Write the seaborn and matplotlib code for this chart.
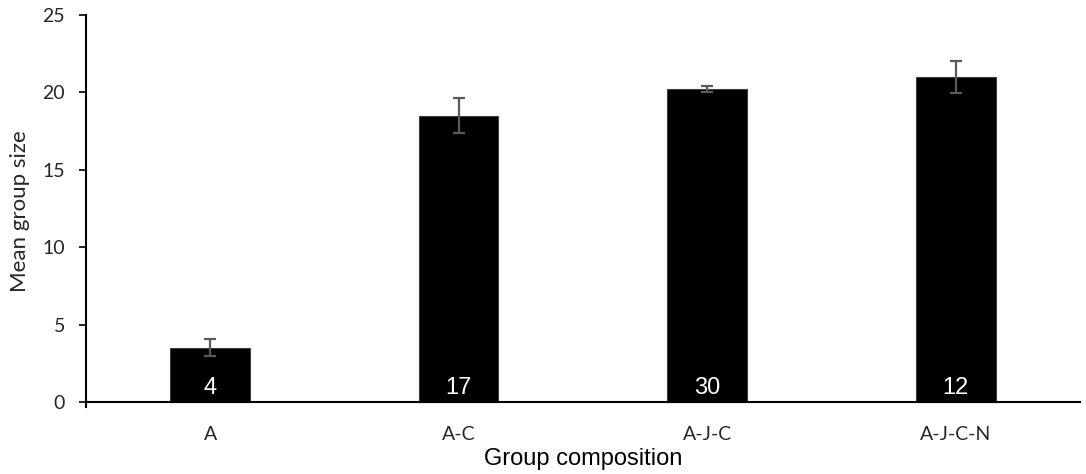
import matplotlib
matplotlib.use("Agg")
import matplotlib.pyplot as plt
import seaborn as sns
import pandas as pd

# Mean group size by composition, with standard errors and sample sizes
groups = ["A", "A-C", "A-J-C", "A-J-C-N"]
mean_size = [3.5, 18.5, 20.2, 21.0]
std_err = [0.55, 1.15, 0.2, 1.05]
n_groups = [4, 17, 30, 12]

df = pd.DataFrame({"group": groups, "mean": mean_size})

sns.set_theme(style="white")
plt.rcParams["font.family"] = ["Lato", "DejaVu Sans"]

fig = plt.figure(figsize=(10.86, 4.74), dpi=100)
ax = fig.add_axes([0.079, 0.142, 0.9155, 0.8265])

sns.barplot(data=df, x="group", y="mean", color="black", width=0.32,
            saturation=1, errorbar=None, ax=ax, edgecolor="#404040",
            linewidth=0.8)

ax.errorbar(range(len(groups)), mean_size, yerr=std_err, fmt="none",
            ecolor="#5a5a5a", elinewidth=1.6, capsize=4, capthick=1.6,
            zorder=5)

# sample size written inside each bar
for i, n in enumerate(n_groups):
    ax.text(i, 0.5, str(n), color="white", ha="center", va="baseline",
            fontsize=17, family="Liberation Sans", zorder=6)

ax.set_xlim(-0.5, len(groups) - 0.5)
ax.set_ylim(-0.3, 25)
ax.set_yticks([0, 5, 10, 15, 20, 25])

for side in ("top", "right"):
    ax.spines[side].set_visible(False)
ax.spines["bottom"].set_position(("data", 0))
ax.spines["left"].set_bounds(-0.3, 25)
for side in ("left", "bottom"):
    ax.spines[side].set_color("black")
    ax.spines[side].set_linewidth(1.5)

ax.tick_params(axis="y", direction="out", length=5, width=1.2, color="black",
               labelsize=14, pad=10, left=True)
ax.tick_params(axis="x", length=0, labelsize=14, pad=17)
for lbl in ax.get_yticklabels() + ax.get_xticklabels():
    lbl.set_color("#262626")

ax.set_ylabel("Mean group size", fontsize=16, color="#262626", labelpad=9)
ax.set_xlabel("Group composition", fontsize=17, family="Liberation Sans",
              color="black", labelpad=4)

fig.savefig("out.png", dpi=100)
